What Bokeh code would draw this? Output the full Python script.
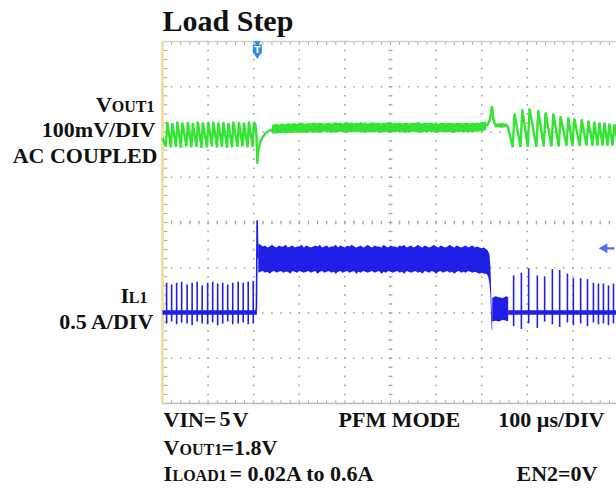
import numpy as np
from bokeh.plotting import figure
from bokeh.models import Range1d, Label
from bokeh.embed import file_html
from bokeh.resources import INLINE

# ---------------- data ----------------
US_PER_DIV = 100          # time base
MV_PER_DIV = 100          # CH1 Vout1, AC coupled
A_PER_DIV = 0.5           # CH2 IL1
VOUT_POS_DIV = 2.08       # CH1 ground position (div)
IL_POS_DIV = -1.99        # CH2 zero position (div)
TRIGGER_TIME_US = 208
TRIGGER_LEVEL_A = 0.71

# light-load PFM pulses before the load step
pulse_t_pre = [9, 20, 31, 42, 54, 65, 76, 87, 99, 110, 121, 132, 143, 154, 166, 177, 188, 199]
il_peak_pre = [0.33, 0.31, 0.33, 0.34, 0.31, 0.33, 0.34, 0.30, 0.33, 0.34, 0.32, 0.33, 0.31, 0.33, 0.34, 0.33, 0.34, 0.35]
il_under_pre = [-0.12, -0.10, -0.13, -0.11, -0.12, -0.14, -0.10, -0.12, -0.13, -0.11, -0.14, -0.12, -0.10, -0.13, -0.12, -0.11, -0.13, -0.12]
vout_peak_pre = [14, 12, 15, 13, 14, 12, 15, 13, 14, 15, 13, 14, 12, 15, 14, 13, 15, 14]
vout_trough_pre = [-40, -42, -41, -43, -40, -42, -41, -43, -42, -40, -42, -41, -43, -42, -41, -40, -42, -41]
vout_start_mv = -22

# Vout undershoot at the 0.02A -> 0.6A step
vout_step_t = [204, 206, 208, 210, 214, 219, 226, 234, 241]
vout_step_mv = [8, -16, -78, -49, -31, -20, -11, -5, -3]

# Vout noise band at 0.6 A (upper / lower envelope, sampled every 5 us from 240 us)
vout_band_hi = [7, 9, 10, 8, 11, 10, 9, 12, 10, 11,
                12, 10, 11, 13, 11, 10, 12, 11, 13, 12,
                11, 13, 12, 10, 12, 13, 11, 12, 14, 12,
                13, 11, 12, 14, 12, 13, 11, 13, 12, 14,
                12, 13, 11, 12, 14, 12, 13, 12, 11, 13,
                12, 14, 12, 11, 13, 12, 13, 11, 12, 13,
                11, 12, 13, 12, 14, 12, 11, 13, 12, 12,
                13, 11, 12, 10, 12, 13, 11, 12, 13, 12,
                11, 13, 12, 12, 11, 13, 12, 11, 13, 12,
                13, 12, 14, 14, 15]
vout_band_lo = [-12, -11, -12, -10, -11, -9, -11, -10, -9, -11,
                -9, -10, -8, -10, -9, -11, -9, -8, -10, -9,
                -8, -10, -9, -7, -9, -8, -10, -9, -8, -9,
                -7, -9, -8, -10, -8, -9, -7, -9, -8, -9,
                -8, -10, -8, -9, -7, -9, -8, -10, -8, -9,
                -8, -9, -10, -8, -9, -7, -9, -8, -10, -9,
                -8, -9, -7, -9, -8, -10, -9, -8, -9, -7,
                -9, -8, -10, -9, -8, -9, -7, -9, -8, -10,
                -9, -8, -9, -7, -9, -8, -10, -8, -9, -7,
                -8, -7, -6, -5, -4]
vout_band_t0, vout_band_dt = 240, 5

# Vout overshoot at the 0.6A -> 0.02A release
vout_rel_t = [710, 714, 717, 719, 721, 722.5, 724, 726, 729]
vout_rel_mv = [5, 10, 17, 25, 36, 49, 35, 18, 8]
vout_hold_t = [728, 736, 744, 752, 757]
vout_hold_hi = [12, 11, 12, 11, 10]
vout_hold_lo = [2, 3, 1, 3, 2]

# PFM pulses after the release
pulse_t_post = [770, 787, 803, 822, 838, 855, 871, 888, 901, 917, 932, 945, 956, 967, 978, 989]
il_peak_post = [0.41, 0.44, 0.49, 0.41, 0.40, 0.48, 0.47, 0.43, 0.38, 0.38, 0.37, 0.33, 0.32, 0.32, 0.30, 0.32]
il_under_post = [-0.15, -0.18, -0.12, -0.17, -0.10, -0.13, -0.16, -0.11, -0.14, -0.12, -0.15, -0.11, -0.13, -0.12, -0.14, -0.12]
vout_peak_post = [33, 42, 44, 40, 35, 33, 27, 24, 22, 20, 17, 15, 13, 13, 11, 9]
vout_trough_post = [-42, -41, -41, -41, -40, -40, -40, -39, -39, -39, -38, -38, -38, -38, -38, -38]
vout_end_t, vout_end_mv = 996, -20

# inductor current
il_base_pre_t = [0, 207]
il_step_t = [204, 206, 207.5, 209, 210]
il_step_a = [0.0, 0.05, 1.02, 0.62, 0.60]
# 0.6 A band, sampled every 5 us from 210 us, then the falling edge
il_band_hi = [0.76, 0.75, 0.73, 0.74, 0.72, 0.73, 0.75, 0.73, 0.72, 0.74,
              0.73, 0.73, 0.75, 0.72, 0.73, 0.74, 0.72, 0.73, 0.73, 0.75,
              0.72, 0.74, 0.73, 0.72, 0.73, 0.74, 0.73, 0.75, 0.72, 0.73,
              0.74, 0.72, 0.73, 0.73, 0.75, 0.72, 0.74, 0.73, 0.72, 0.74,
              0.73, 0.75, 0.73, 0.72, 0.73, 0.74, 0.72, 0.73, 0.75, 0.73,
              0.72, 0.74, 0.73, 0.73, 0.72, 0.75, 0.73, 0.72, 0.74, 0.73,
              0.73, 0.72, 0.74, 0.73, 0.75, 0.72, 0.73, 0.74, 0.72, 0.73,
              0.75, 0.73, 0.72, 0.74, 0.73, 0.72, 0.73, 0.75, 0.73, 0.72,
              0.74, 0.73, 0.72, 0.73, 0.75, 0.73, 0.72, 0.74, 0.73, 0.72,
              0.73, 0.74, 0.72, 0.73, 0.74, 0.72, 0.73, 0.72, 0.71, 0.72,
              0.70]
il_band_lo = [0.44, 0.45, 0.46, 0.44, 0.45, 0.43, 0.45, 0.46, 0.44, 0.45,
              0.46, 0.44, 0.45, 0.45, 0.43, 0.46, 0.45, 0.44, 0.46, 0.45,
              0.44, 0.45, 0.46, 0.44, 0.45, 0.46, 0.43, 0.45, 0.46, 0.44,
              0.45, 0.46, 0.44, 0.45, 0.43, 0.45, 0.46, 0.44, 0.45, 0.46,
              0.44, 0.45, 0.46, 0.43, 0.45, 0.44, 0.46, 0.45, 0.44, 0.45,
              0.46, 0.44, 0.45, 0.46, 0.43, 0.45, 0.44, 0.46, 0.45, 0.44,
              0.45, 0.46, 0.44, 0.45, 0.43, 0.46, 0.45, 0.44, 0.45, 0.46,
              0.44, 0.45, 0.43, 0.46, 0.45, 0.44, 0.46, 0.45, 0.43, 0.45,
              0.46, 0.44, 0.45, 0.46, 0.44, 0.45, 0.43, 0.45, 0.46, 0.44,
              0.45, 0.44, 0.46, 0.45, 0.44, 0.45, 0.44, 0.43, 0.44, 0.43,
              0.43]
il_band_t0, il_band_dt = 210, 5
il_fall_t = [714, 717, 719, 720, 721, 722, 723]
il_fall_hi = [0.68, 0.64, 0.52, 0.36, 0.18, 0.02, -0.08]
il_fall_lo = [0.40, 0.32, 0.20, 0.05, -0.10, -0.19, -0.20]
il_block_t = [723, 730, 738, 746, 754, 758]
il_block_hi = [0.16, 0.18, 0.17, 0.16, 0.18, 0.17]
il_block_lo = [-0.10, -0.09, -0.10, -0.08, -0.09, -0.10]
il_base_post_t = [758, 996]
il_noise_a = 0.025

# ---------------- helpers: whole canvas is the data frame ----------------
W, H = 616, 491
SCR_L, SCR_T, SCR_W, SCR_H = 162, 41, 454, 362      # scope screen in canvas pixels
PX_PER_DIV_X = 45.6
PX_PER_DIV_Y = SCR_H / 8.0
X_MAX = SCR_W / PX_PER_DIV_X * US_PER_DIV


def px2x(px):
    return (px - SCR_L) / PX_PER_DIV_X * US_PER_DIV


def py2y(py):
    return (SCR_T + SCR_H / 2.0 - py) / PX_PER_DIV_Y


def vdiv(mv):
    return VOUT_POS_DIV + np.asarray(mv, dtype=float) / MV_PER_DIV


def idiv(a):
    return IL_POS_DIV + np.asarray(a, dtype=float) / A_PER_DIV


GREEN = "#35e335"
BLUE = "#1f1fe8"
GRID = "#a4a4a4"

p = figure(width=W, height=H, output_backend="svg", toolbar_location=None,
           x_range=Range1d(px2x(0), px2x(W)), y_range=Range1d(py2y(H), py2y(0)),
           x_axis_location=None, y_axis_location=None, title=None,
           min_border=0, min_border_left=0, min_border_right=0,
           min_border_top=0, min_border_bottom=0)
p.grid.visible = False
p.background_fill_color = "white"
p.border_fill_color = "white"
p.outline_line_color = None

# ---------------- graticule ----------------
xs_major = np.arange(1, 10) * US_PER_DIV
ys_fine = np.arange(-20, 21) * 0.2
gx, gy = np.meshgrid(xs_major, ys_fine)
p.scatter(gx.ravel(), gy.ravel(), marker="square", size=1.6, fill_color=GRID, line_color=None)
ys_major = np.arange(-3, 4)
xs_fine = np.arange(1, 50) * US_PER_DIV * 0.2
hx, hy = np.meshgrid(xs_fine, ys_major)
p.scatter(hx.ravel(), hy.ravel(), marker="square", size=1.6, fill_color=GRID, line_color=None)

tick_x = 2.0 / PX_PER_DIV_X * US_PER_DIV
tick_y = 2.0 / PX_PER_DIV_Y
p.segment(x0=xs_fine, y0=-tick_y, x1=xs_fine, y1=tick_y, line_color=GRID, line_width=1)
p.segment(x0=5 * US_PER_DIV - tick_x, y0=ys_fine, x1=5 * US_PER_DIV + tick_x, y1=ys_fine,
          line_color=GRID, line_width=1)
p.segment(x0=xs_fine, y0=4, x1=xs_fine, y1=4 - 1.6 * tick_y, line_color=GRID, line_width=1)
p.segment(x0=xs_fine, y0=-4, x1=xs_fine, y1=-4 + 1.6 * tick_y, line_color=GRID, line_width=1)
p.segment(x0=0, y0=ys_fine, x1=2.4 * tick_x, y1=ys_fine, line_color=GRID, line_width=1)
# screen border (right side is cut off in the picture)
p.segment(x0=[0], y0=[4], x1=[X_MAX], y1=[4], line_color="#d6d2bc", line_width=1.5)
p.segment(x0=[0], y0=[-4], x1=[X_MAX], y1=[-4], line_color="#bdbdbd", line_width=1.5)
p.segment(x0=[0], y0=[-4], x1=[0], y1=[4], line_color="#efe0a4", line_width=3)

# ---------------- CH1: Vout1 ----------------
rise = 1.5
gxs = [0.0]
gys = [vout_start_mv]
for t, lo, hi in zip(pulse_t_pre, vout_trough_pre, vout_peak_pre):
    gxs += [t - rise, t + rise]
    gys += [lo, hi]
gxs += vout_step_t
gys += vout_step_mv
p.line(gxs, vdiv(gys), line_color=GREEN, line_width=2.4)

vout_band_t = vout_band_t0 + vout_band_dt * np.arange(len(vout_band_hi))
p.varea(x=vout_band_t, y1=vdiv(vout_band_lo), y2=vdiv(vout_band_hi), fill_color=GREEN)
p.line(vout_rel_t, vdiv(vout_rel_mv), line_color=GREEN, line_width=2.5)
p.varea(x=vout_hold_t, y1=vdiv(vout_hold_lo), y2=vdiv(vout_hold_hi), fill_color=GREEN)

rise2 = 2.0
pxs = [vout_hold_t[-1]]
pys = [(vout_hold_hi[-1] + vout_hold_lo[-1]) / 2.0]
for t, lo, hi in zip(pulse_t_post, vout_trough_post, vout_peak_post):
    pxs += [t - rise2, t + rise2]
    pys += [lo, hi]
pxs.append(vout_end_t)
pys.append(vout_end_mv)
p.line(pxs, vdiv(pys), line_color=GREEN, line_width=2.4)

# ---------------- CH2: IL1 ----------------
p.varea(x=il_base_pre_t, y1=idiv([-il_noise_a] * 2), y2=idiv([il_noise_a] * 2), fill_color=BLUE)
p.varea(x=il_base_post_t, y1=idiv([-il_noise_a] * 2), y2=idiv([il_noise_a] * 2), fill_color=BLUE)
p.segment(x0=pulse_t_pre, y0=idiv(il_under_pre), x1=pulse_t_pre, y1=idiv(il_peak_pre),
          line_color=BLUE, line_width=1.6)
p.segment(x0=pulse_t_post, y0=idiv(il_under_post), x1=pulse_t_post, y1=idiv(il_peak_post),
          line_color=BLUE, line_width=1.6)
p.line(il_step_t, idiv(il_step_a), line_color=BLUE, line_width=1.6)
il_band_t = list(il_band_t0 + il_band_dt * np.arange(len(il_band_hi))) + il_fall_t
p.varea(x=il_band_t, y1=idiv(il_band_lo + il_fall_lo), y2=idiv(il_band_hi + il_fall_hi),
        fill_color=BLUE)
p.varea(x=il_block_t, y1=idiv(il_block_lo), y2=idiv(il_block_hi), fill_color=BLUE)

# ---------------- scope markers ----------------
TRIG = "#2e8be2"
p.scatter([TRIGGER_TIME_US], [py2y(42.5)], marker="inverted_triangle", size=7,
          fill_color=TRIG, line_color=None)
p.scatter([TRIGGER_TIME_US], [py2y(48.5)], marker="square", size=9, fill_color=TRIG, line_color=None)
p.scatter([TRIGGER_TIME_US], [py2y(53.5)], marker="inverted_triangle", size=9,
          fill_color=TRIG, line_color=None)
p.add_layout(Label(x=TRIGGER_TIME_US, y=py2y(49), text="T", text_font="DejaVu Sans",
                   text_font_style="bold", text_font_size="9px", text_color="white",
                   text_align="center", text_baseline="middle"))
ARROW = "#5a6cf2"
p.segment(x0=px2x(604), y0=idiv(TRIGGER_LEVEL_A), x1=px2x(614), y1=idiv(TRIGGER_LEVEL_A),
          line_color=ARROW, line_width=2.2)
p.scatter([px2x(604)], [idiv(TRIGGER_LEVEL_A)], marker="triangle", angle=np.pi / 2, size=10,
          fill_color=ARROW, line_color=None)

# ---------------- texts ----------------
SERIF = "Liberation Serif"
BASE_SHIFT = 0.37      # compensates the renderer's baseline offset (fraction of font size)


def lab(px, py, text, size, align="left"):
    p.add_layout(Label(x=px2x(px), y=py2y(py - BASE_SHIFT * size), text=text, text_font=SERIF,
                       text_font_style="bold", text_font_size=f"{size}px", text_color="#111111",
                       text_align=align, text_baseline="alphabetic"))


BIG, SMALL = 22, 16
lab(162, 31, "Load Step", 30)
lab(111.5, 112, "V", BIG, "right")
lab(154, 112, "OUT1", SMALL, "right")
lab(155, 137, "100mV/DIV", BIG, "right")
lab(157, 163, "AC COUPLED", BIG, "right")
lab(128.5, 303, "I", BIG, "right")
lab(147, 303, "L1", SMALL, "right")
lab(154, 329, "0.5 A/DIV", BIG, "right")

lab(163, 427, "VIN=", BIG)
lab(219, 427, "5", BIG)
lab(232, 427, "V", BIG)
lab(338, 427, "PFM MODE", BIG)
lab(604, 427, "100 µs/DIV", BIG, "right")
lab(163, 455, "V", BIG)
lab(179, 455, "OUT1", SMALL)
lab(221, 455, "=1.8V", BIG)
lab(163, 481, "I", BIG)
lab(172, 481, "LOAD1", SMALL)
lab(229, 481, "= 0.02A to 0.6A", BIG)
lab(597, 481, "EN2=0V", BIG, "right")

open("out.html", "w").write(file_html(p, INLINE))
